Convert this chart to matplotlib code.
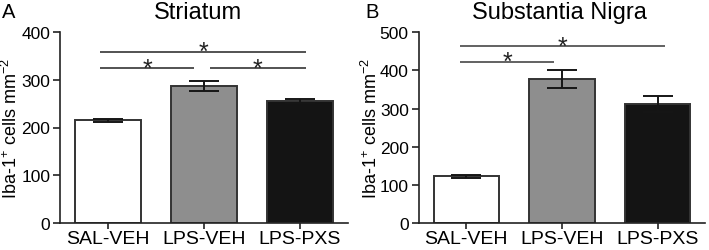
import matplotlib
matplotlib.use("Agg")
import matplotlib.pyplot as plt

plt.rcParams['font.family'] = ['Liberation Sans', 'DejaVu Sans']
plt.rcParams['mathtext.fontset'] = 'custom'
plt.rcParams['mathtext.rm'] = 'Liberation Sans'
plt.rcParams['mathtext.it'] = 'Liberation Sans'

categories = ["SAL-VEH", "LPS-VEH", "LPS-PXS"]
colors = ["#ffffff", "#8e8e8e", "#141414"]

striatum_mean = [215, 287, 256]
striatum_err = [3, 10, 4]
nigra_mean = [122, 378, 312]
nigra_err = [5, 24, 21]

# significance lines: (x_start, x_end, height)
striatum_sig = [(-0.08, 2.06, 359), (-0.08, 0.90, 324), (1.06, 2.06, 324)]
nigra_sig = [(-0.07, 2.08, 463), (-0.07, 0.92, 423)]

W, H = 709, 251
fig = plt.figure(figsize=(W / 100, H / 100), dpi=100)

def px_axes(l, r, top, bot):
    return fig.add_axes([l / W, (H - bot) / H, (r - l) / W, (bot - top) / H])

axA = px_axes(60, 348, 33, 224)
axB = px_axes(418.5, 705.5, 33.3, 224)

def draw(ax, means, errs, sig, ymax, sig_color, label_x):
    x = list(range(len(categories)))
    ax.bar(x, means, width=0.68, color=colors, edgecolor="#333333", linewidth=1.4, zorder=2)
    ax.errorbar(x, means, yerr=errs, fmt='none', ecolor="#161616", elinewidth=1.4,
                capsize=11, capthick=1.4, zorder=3)
    ax.set_xlim(-0.5, 2.5)
    ax.set_ylim(0, ymax)
    ax.set_yticks(range(0, ymax + 1, 100))
    ax.set_xticks(x)
    ax.set_xticklabels(categories, fontsize=14)
    ax.tick_params(axis='y', labelsize=12.5, length=5, width=1.2, pad=2, color="#222222")
    ax.tick_params(axis='x', length=4, width=1.2, pad=1, color="#222222")
    for s in ['top', 'right']:
        ax.spines[s].set_visible(False)
    for s in ['left', 'bottom']:
        ax.spines[s].set_linewidth(1.2)
        ax.spines[s].set_color("#222222")
    ax.set_ylabel(r'Iba-1$^{+}$ cells mm$^{-2}$', fontsize=13, va='center')
    ax.yaxis.set_label_coords(label_x, 0.5)
    for x0, x1, h in sig:
        ax.plot([x0, x1], [h, h], color=sig_color, lw=1.3, solid_capstyle='butt', clip_on=False)
        ax.annotate('*', xy=((x0 + x1) / 2, h), xytext=(0, -5.5), textcoords='offset points',
                    ha='center', va='baseline', fontsize=18, color="#222222", annotation_clip=False)

draw(axA, striatum_mean, striatum_err, striatum_sig, 400, "#444444", -0.172)
draw(axB, nigra_mean, nigra_err, nigra_sig, 500, "#555555", -0.167)

fig.text(198 / W, (H - 19) / H, "Striatum", ha='center', va='baseline', fontsize=17)
fig.text(559 / W, (H - 19) / H, "Substantia Nigra", ha='center', va='baseline', fontsize=17)
fig.text(2 / W, (H - 18.5) / H, "A", ha='left', va='baseline', fontsize=14.5)
fig.text(365 / W, (H - 18) / H, "B", ha='left', va='baseline', fontsize=14.5)

fig.savefig("out.png", dpi=100)
